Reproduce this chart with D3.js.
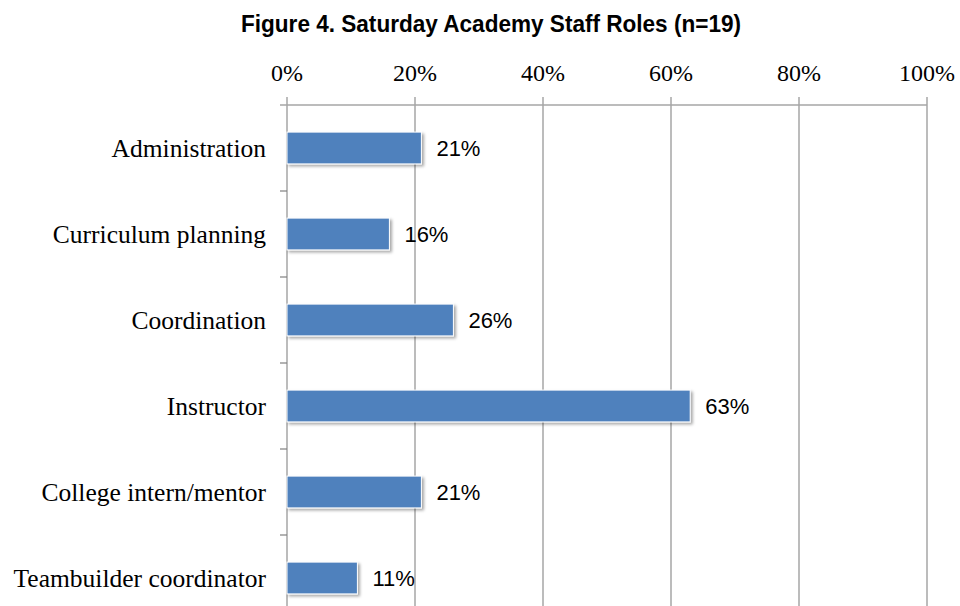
<!DOCTYPE html>
<html>
<head>
<meta charset="utf-8">
<script src="https://cdn.jsdelivr.net/npm/d3@7"></script>
<style>
  body { margin: 0; background: #fff; }
  .grid line { stroke: #a6a6a6; stroke-width: 1.5; }
  .axis text { font-family: "Liberation Serif", "Times New Roman", serif; fill: #000; }
</style>
</head>
<body>
<svg id="chart"></svg>
<script>
// chart data
var roles = ["Administration", "Curriculum planning", "Coordination", "Instructor", "College intern/mentor", "Teambuilder coordinator"];
var percents = [21, 16, 26, 63, 21, 11];
var xTicks = [0, 20, 40, 60, 80, 100];

var width = 960, height = 606;
var plotLeft = 287, plotRight = 927, plotTop = 105, band = 86;

var svg = d3.select("#chart")
  .attr("width", width)
  .attr("height", height);

var defs = svg.append("defs");
var shadow = defs.append("filter").attr("id", "shadow")
  .attr("x", "-10%").attr("y", "-20%").attr("width", "130%").attr("height", "160%");
shadow.append("feDropShadow")
  .attr("dx", 2).attr("dy", 2).attr("stdDeviation", 1.8)
  .attr("flood-color", "#000").attr("flood-opacity", 0.35);

var x = d3.scaleLinear().domain([0, 100]).range([plotLeft, plotRight]);
var bandEnd = plotTop + band * roles.length;
var y = d3.scaleBand().domain(roles).range([plotTop, bandEnd]).paddingInner(0.63).paddingOuter(0.315);
var yLines = d3.scaleBand().domain(roles).range([plotTop, bandEnd]);

// title
svg.append("text")
  .attr("x", 491)
  .attr("y", 32)
  .attr("text-anchor", "middle")
  .attr("textLength", 500)
  .attr("lengthAdjust", "spacingAndGlyphs")
  .style("font-family", "'Liberation Sans Narrow', 'Arial Narrow', 'Liberation Sans', sans-serif")
  .style("font-weight", "bold")
  .style("font-size", "24px")
  .text("Figure 4. Saturday Academy Staff Roles (n=19)");

// vertical gridlines
svg.append("g").classed("grid", true)
  .selectAll("line")
  .data(xTicks)
  .enter()
  .append("line")
    .attr("x1", d => x(d)).attr("x2", d => x(d))
    .attr("y1", plotTop - 8).attr("y2", height);

// top axis line
svg.append("line")
  .attr("x1", plotLeft - 7).attr("x2", plotRight)
  .attr("y1", plotTop).attr("y2", plotTop)
  .attr("stroke", "#a6a6a6").attr("stroke-width", 1.5);

// category boundary ticks on the y axis
svg.append("g")
  .selectAll("line")
  .data(roles.slice(1))
  .enter()
  .append("line")
    .attr("x1", plotLeft - 7).attr("x2", plotLeft)
    .attr("y1", d => yLines(d)).attr("y2", d => yLines(d))
    .attr("stroke", "#808080").attr("stroke-width", 1.2);

// x tick labels
svg.append("g").classed("axis", true)
  .selectAll("text")
  .data(xTicks)
  .enter()
  .append("text")
    .attr("x", d => x(d))
    .attr("y", 81)
    .attr("text-anchor", "middle")
    .style("font-size", "24px")
    .text(d => d + "%");

// category labels
svg.append("g").classed("axis", true)
  .selectAll("text")
  .data(roles)
  .enter()
  .append("text")
    .attr("x", 266)
    .attr("y", d => y(d) + y.bandwidth() / 2)
    .attr("dy", "0.36em")
    .attr("text-anchor", "end")
    .style("font-size", "25.5px")
    .text(d => d);

// bars
svg.append("g")
  .selectAll("rect")
  .data(percents)
  .enter()
  .append("rect")
    .attr("x", x(0))
    .attr("y", (d, i) => y(roles[i]))
    .attr("width", d => x(d) - x(0))
    .attr("height", y.bandwidth())
    .attr("fill", "#4f81bd")
    .attr("stroke", "#ffffff")
    .attr("stroke-width", 1)
    .attr("filter", "url(#shadow)");

// value labels
svg.append("g")
  .selectAll("text")
  .data(percents)
  .enter()
  .append("text")
    .attr("x", d => x(d) + 15)
    .attr("y", (d, i) => y(roles[i]) + y.bandwidth() / 2)
    .attr("dy", "0.35em")
    .style("font-family", "'Liberation Sans', Arial, sans-serif")
    .style("font-size", "22px")
    .text(d => d + "%");
</script>
</body>
</html>
